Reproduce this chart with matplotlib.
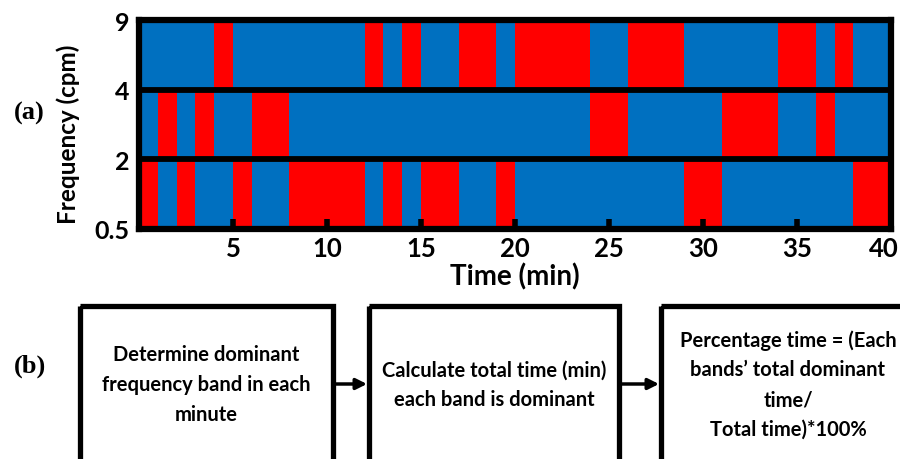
import matplotlib
matplotlib.use("Agg")
import matplotlib.pyplot as plt
import numpy as np
from matplotlib.colors import ListedColormap
from matplotlib.patches import Rectangle
from matplotlib.transforms import ScaledTranslation

# dominant band in each minute (0 = 0.5-2, 1 = 2-4, 2 = 4-9 cpm)
minutes = np.arange(1, 41)
dominant = [0, 1, 0, 1, 2, 0, 1, 1, 0, 0,
            0, 0, 2, 0, 2, 0, 0, 2, 2, 0,
            2, 2, 2, 2, 1, 1, 2, 2, 2, 0,
            0, 1, 1, 1, 2, 2, 1, 2, 0, 0]
band_edges = ['0.5', '2', '4', '9']
time_ticks = [5, 10, 15, 20, 25, 30, 35, 40]
steps = ["Determine dominant\nfrequency band in each\nminute",
         "Calculate total time (min)\neach band is dominant",
         "Percentage time = (Each\nbands\u2019 total dominant\ntime/\nTotal time)*100%"]

plt.rcParams['font.family'] = ['Lato', 'DejaVu Sans']
plt.rcParams['font.weight'] = 'bold'

W, H = 900, 460
fig = plt.figure(figsize=(9, 4.6), dpi=100)

# ---- (a) heat strip ----
ax = fig.add_axes([139 / W, 1 - 230 / H, 752 / W, 209 / H])
grid = np.zeros((3, len(minutes)))
for i, d in enumerate(dominant):
    grid[d, i] = 1
ax.pcolormesh(np.arange(0, len(minutes) + 1), np.arange(0, 4), grid,
              cmap=ListedColormap(['#0070C0', '#FF0000']), vmin=0, vmax=1)
for yy in [1, 2]:
    ax.axhline(yy, color='k', lw=4.2)
for s in ax.spines.values():
    s.set_linewidth(4.5)
ax.set_xlim(0, 40)
ax.set_ylim(0, 3)
ax.set_yticks(range(4))
ax.set_yticklabels(band_edges)
ax.set_xticks(time_ticks)
ax.tick_params(axis='y', length=0, pad=7, labelsize=18)
ax.tick_params(axis='x', direction='in', length=7, width=4, labelsize=18.5, pad=5)
ax.set_xlabel('Time (min)', fontsize=20, fontweight='bold', labelpad=2)
ax.set_ylabel('Frequency (cpm)', fontsize=17.5, fontweight='bold')
ax.yaxis.set_label_coords(-0.078, 0.46)
# last tick label sits a little inside, like the original
last = ax.get_xticklabels()[-1]
last.set_transform(last.get_transform() + ScaledTranslation(-7 / 100, 0, fig.dpi_scale_trans))

# ---- (b) flow chart ----
ax2 = fig.add_axes([0, 0, 1, 1])
ax2.set_xlim(0, W)
ax2.set_ylim(H, 0)
ax2.axis('off')

box_x = [(80, 333), (369, 619), (661, 915)]
box_top, box_bot, mid_y = 307, 475, 385
for (x0, x1), txt in zip(box_x, steps):
    ax2.add_patch(Rectangle((x0, box_top), x1 - x0, box_bot - box_top,
                            fill=False, ec='k', lw=3.8))
    ax2.text((x0 + x1) / 2, mid_y, txt, ha='center', va='center',
             fontsize=14.5, fontweight='bold', linespacing=1.6)
for i in range(len(box_x) - 1):
    ax2.annotate('', xy=(box_x[i + 1][0] - 2, mid_y), xytext=(box_x[i][1], mid_y),
                 arrowprops=dict(arrowstyle='-|>', color='k', lw=2.5,
                                 mutation_scale=16, shrinkA=0, shrinkB=0))

ax2.text(29, 113, '(a)', ha='center', va='center', fontsize=19,
         fontweight='bold', family='Liberation Serif')
ax2.text(30, 366, '(b)', ha='center', va='center', fontsize=19,
         fontweight='bold', family='Liberation Serif')

fig.savefig('out.png', dpi=100)
